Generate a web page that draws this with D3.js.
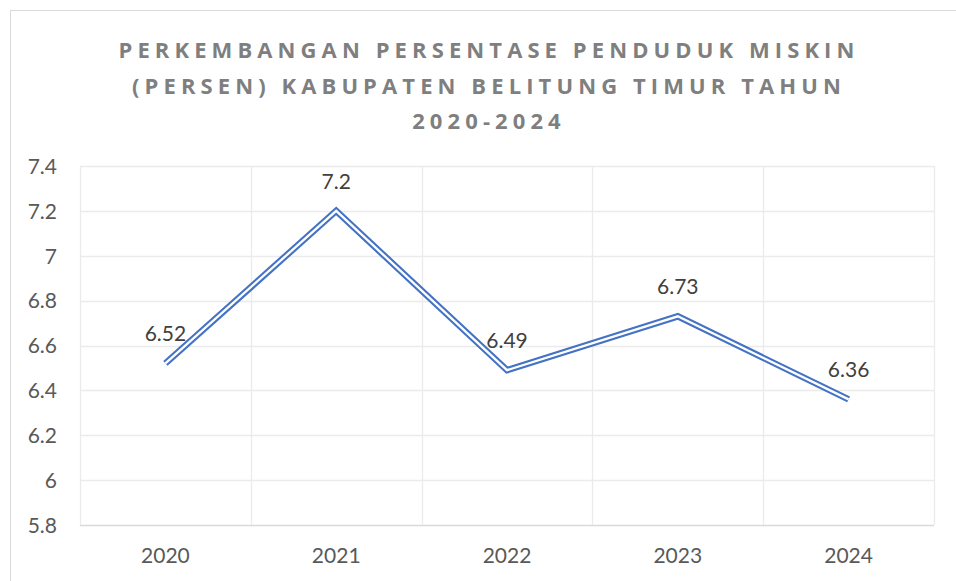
<!DOCTYPE html>
<html><head><meta charset="utf-8">
<script src="https://cdn.jsdelivr.net/npm/d3@7"></script>
<style>body{margin:0;background:#fff;} svg{display:block;}</style>
</head><body>
<script>
const years = ["2020","2021","2022","2023","2024"];
const values = [6.52, 7.2, 6.49, 6.73, 6.36];
const yTicks = [5.8, 6, 6.2, 6.4, 6.6, 6.8, 7, 7.2, 7.4];
const titleLines = ["PERKEMBANGAN PERSENTASE PENDUDUK MISKIN", "(PERSEN) KABUPATEN BELITUNG TIMUR TAHUN", "2020-2024"];

const W = 956, H = 581;
const m = {left: 80, right: 22, top: 166, bottom: 56};
const svg = d3.select("body").append("svg").attr("width", W).attr("height", H);
svg.append("rect").attr("x", 10.5).attr("y", 10.5).attr("width", W).attr("height", H).attr("fill", "#fff").attr("stroke", "#d9d9d9");

const x = d3.scaleBand().domain(years).range([m.left, W - m.right]);
const y = d3.scaleLinear().domain([5.8, 7.4]).range([H - m.bottom, m.top]);
const font = "Lato, sans-serif";

// title
svg.append("g").selectAll("text").data(titleLines).join("text")
  .attr("x", 489).attr("y", (d, i) => 58 + i * 35.5)
  .attr("text-anchor", "middle").attr("fill", "#7f7f7f")
  .style("font-family", "'Open Sans', sans-serif").style("font-weight", "bold")
  .style("font-size", "22px").style("letter-spacing", "5.1px").text(d => d);

// gridlines
const g = svg.append("g");
g.selectAll("line.h").data(yTicks).join("line")
  .attr("x1", m.left).attr("x2", W - m.right)
  .attr("y1", d => Math.round(y(d)) + 0.5).attr("y2", d => Math.round(y(d)) + 0.5)
  .attr("stroke", d => d === 5.8 ? "#d9d9d9" : "#ebebeb").attr("stroke-width", 1.3);
const vb = years.map(d => x(d)).concat([W - m.right]);
g.selectAll("line.v").data(vb).join("line")
  .attr("y1", m.top).attr("y2", H - m.bottom)
  .attr("x1", d => Math.round(d) + 0.5).attr("x2", d => Math.round(d) + 0.5)
  .attr("stroke", "#ebebeb").attr("stroke-width", 1.3);

// y axis labels
const yAxis = d3.axisLeft(y).tickValues(yTicks).tickSize(0).tickPadding(0).tickFormat(d => String(+d.toFixed(1)));
const ya = svg.append("g").attr("transform", `translate(${57},0)`).call(yAxis);
ya.select(".domain").remove();
ya.selectAll("text").attr("fill", "#595959").style("font-family", font).style("font-size", "21px").attr("dy", "0.35em");

// x axis labels
const xAxis = d3.axisBottom(x).tickSize(0).tickPadding(0);
const xa = svg.append("g").attr("transform", `translate(0,${563})`).call(xAxis);
xa.select(".domain").remove();
xa.selectAll("text").attr("fill", "#595959").style("font-family", font).style("font-size", "21px").attr("dy", "0");

// double line
const pts = years.map((d, i) => [x(d) + x.bandwidth() / 2, y(values[i])]);
const line = d3.line();
svg.append("path").attr("d", line(pts)).attr("fill", "none").attr("stroke", "#4472c4").attr("stroke-width", 6.5).attr("stroke-linejoin", "miter");
svg.append("path").attr("d", line(pts)).attr("fill", "none").attr("stroke", "#fff").attr("stroke-width", 2.3).attr("stroke-linejoin", "miter");

// data labels
svg.append("g").selectAll("text").data(values).join("text")
  .attr("x", (d, i) => pts[i][0]).attr("y", (d, i) => pts[i][1] - 22)
  .attr("text-anchor", "middle").attr("fill", "#404040")
  .style("font-family", font).style("font-size", "21px").text(d => String(d));
</script>
</body></html>
